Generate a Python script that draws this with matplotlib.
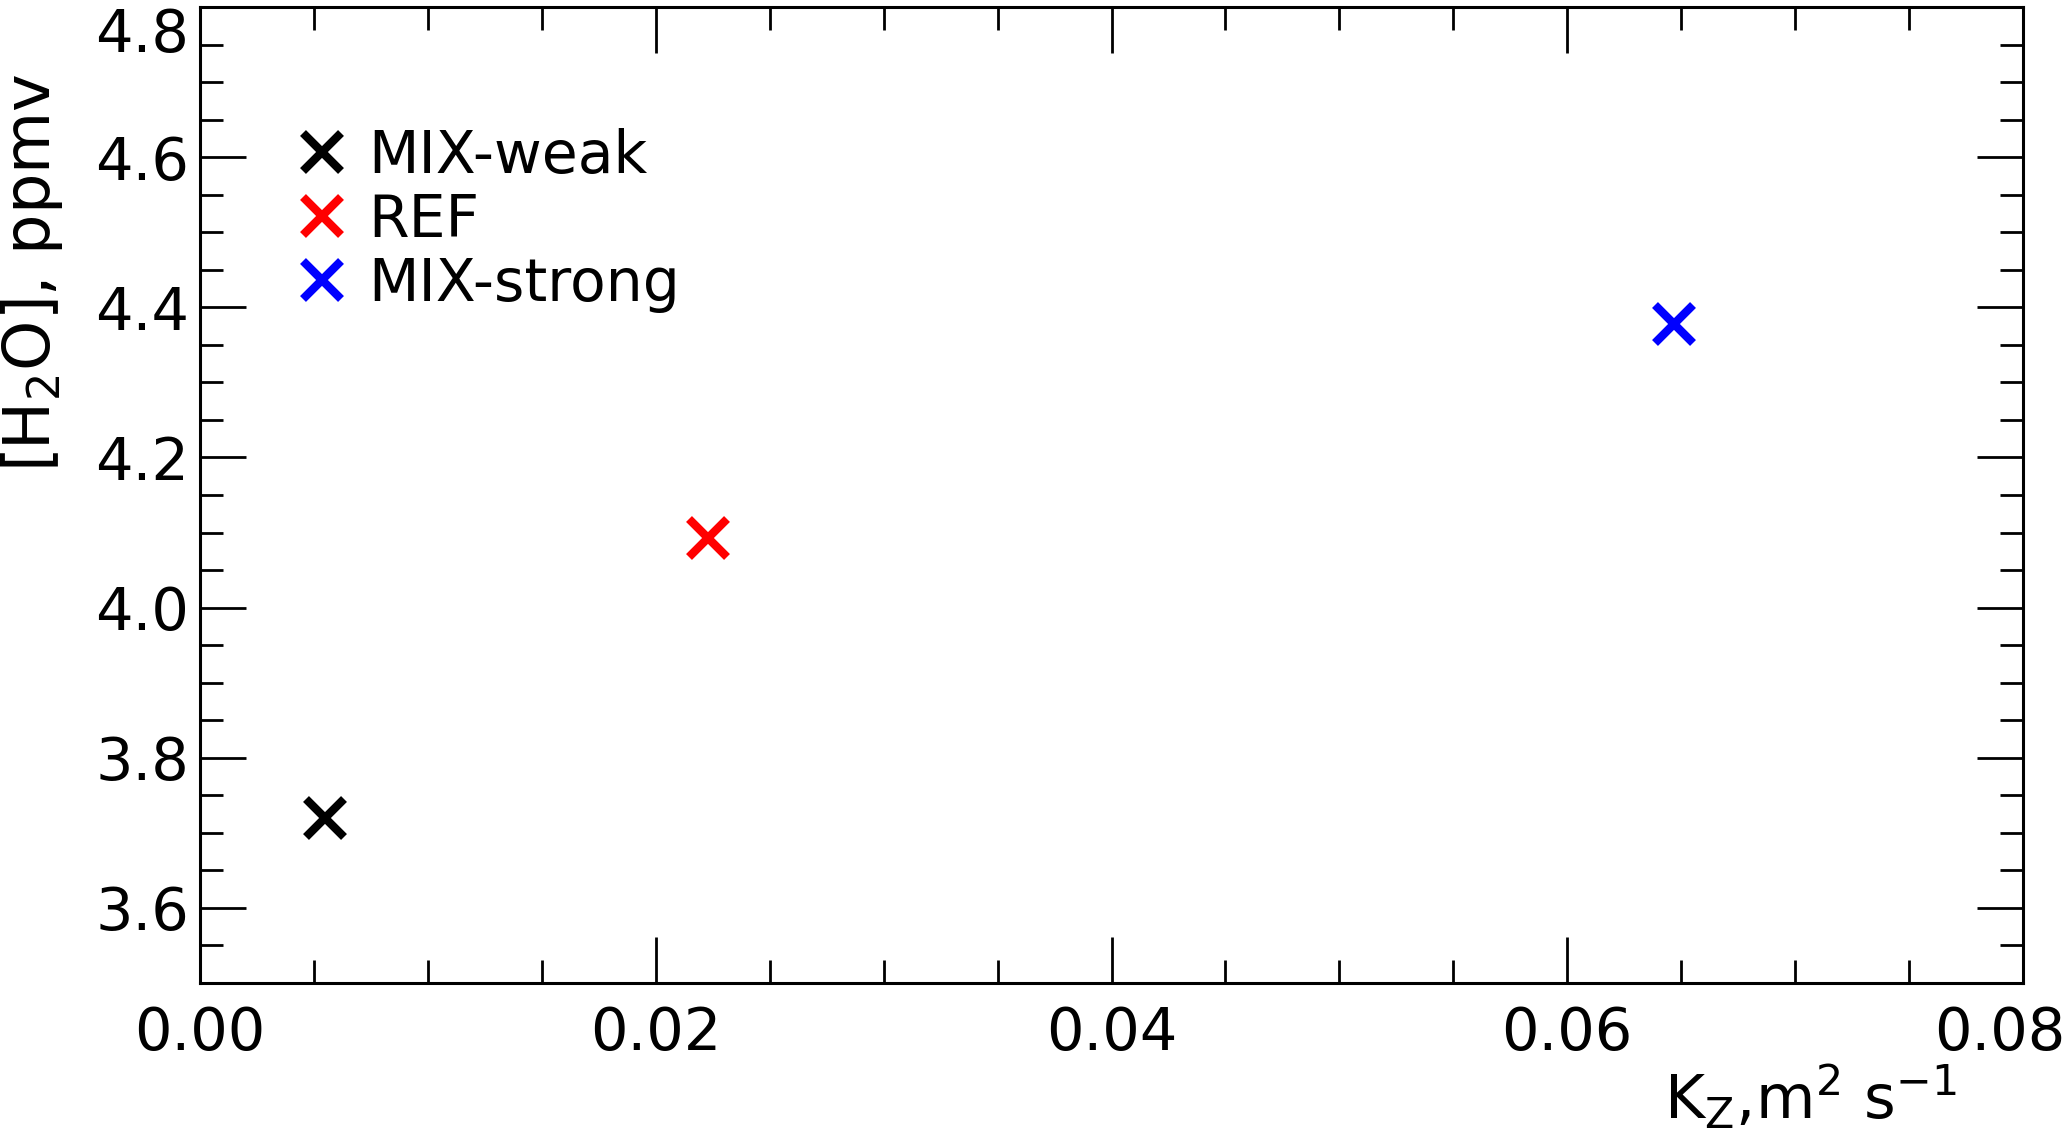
import matplotlib
matplotlib.use("Agg")
import matplotlib.pyplot as plt
from matplotlib.ticker import MultipleLocator
from matplotlib.transforms import ScaledTranslation

# Data
labels = ["MIX-weak", "REF", "MIX-strong"]
kz = [0.0055, 0.0223, 0.0647]
h2o = [3.72, 4.093, 4.378]
colors = ["black", "red", "blue"]

xticks = [0.00, 0.02, 0.04, 0.06, 0.08]
xticklabels = ["0.00", "0.02", "0.04", "0.06", "0.08"]
yticks = [3.6, 3.8, 4.0, 4.2, 4.4, 4.6, 4.8]
yticklabels = ["3.6", "3.8", "4.0", "4.2", "4.4", "4.6", "4.8"]

plt.rcParams['font.family'] = ['DejaVu Sans']
plt.rcParams['mathtext.fontset'] = 'dejavusans'

W, H = 2067, 1137
fig = plt.figure(figsize=(W / 100, H / 100), dpi=100)
ax = fig.add_axes([200/W, 1 - 983/H, 1823/W, 976/H])

for x, y, c, l in zip(kz, h2o, colors, labels):
    ax.plot([x], [y], linestyle='none', marker='x', color=c, markersize=27,
            markeredgewidth=6, label=l)

ax.set_xlim(0, 0.08)
ax.set_ylim(3.5, 4.8)
ax.set_xticks(xticks)
ax.set_xticklabels(xticklabels)
ax.set_yticks(yticks)
ax.set_yticklabels(yticklabels)
ax.xaxis.set_minor_locator(MultipleLocator(0.005))
ax.yaxis.set_minor_locator(MultipleLocator(0.05))

ax.tick_params(which='both', direction='in', top=True, right=True, width=2, labelsize=42.5)
ax.tick_params(which='major', length=33)
ax.tick_params(which='minor', length=16.5)
ax.tick_params(axis='x', which='major', pad=16)
ax.tick_params(axis='y', which='major', pad=8)
for s in ax.spines.values():
    s.set_linewidth(2.2)

# nudge the edge labels inward so they stay inside the figure
ax.get_yticklabels()[-1].set_va('top')
last_x = ax.get_xticklabels()[-1]
last_x.set_transform(last_x.get_transform() + ScaledTranslation(-0.23, 0, fig.dpi_scale_trans))

fig.text(32/W, 1 - 273/H, r'[H$_\mathregular{2}$O], ppmv', fontsize=46,
         rotation=90, ha='center', va='center')
fig.text(1811/W, 1 - 1098/H, r'K$_\mathregular{Z}$,m$^\mathregular{2}$ s$^\mathregular{-1}$',
         fontsize=44, ha='center', va='center')

leg = ax.legend(loc='upper left', bbox_to_anchor=(0.038, 0.906), frameon=False,
                fontsize=42, handlelength=0.8, handletextpad=0.4,
                labelspacing=0.12, borderpad=0, markerscale=1.0)

fig.savefig("out.png", dpi=100)
